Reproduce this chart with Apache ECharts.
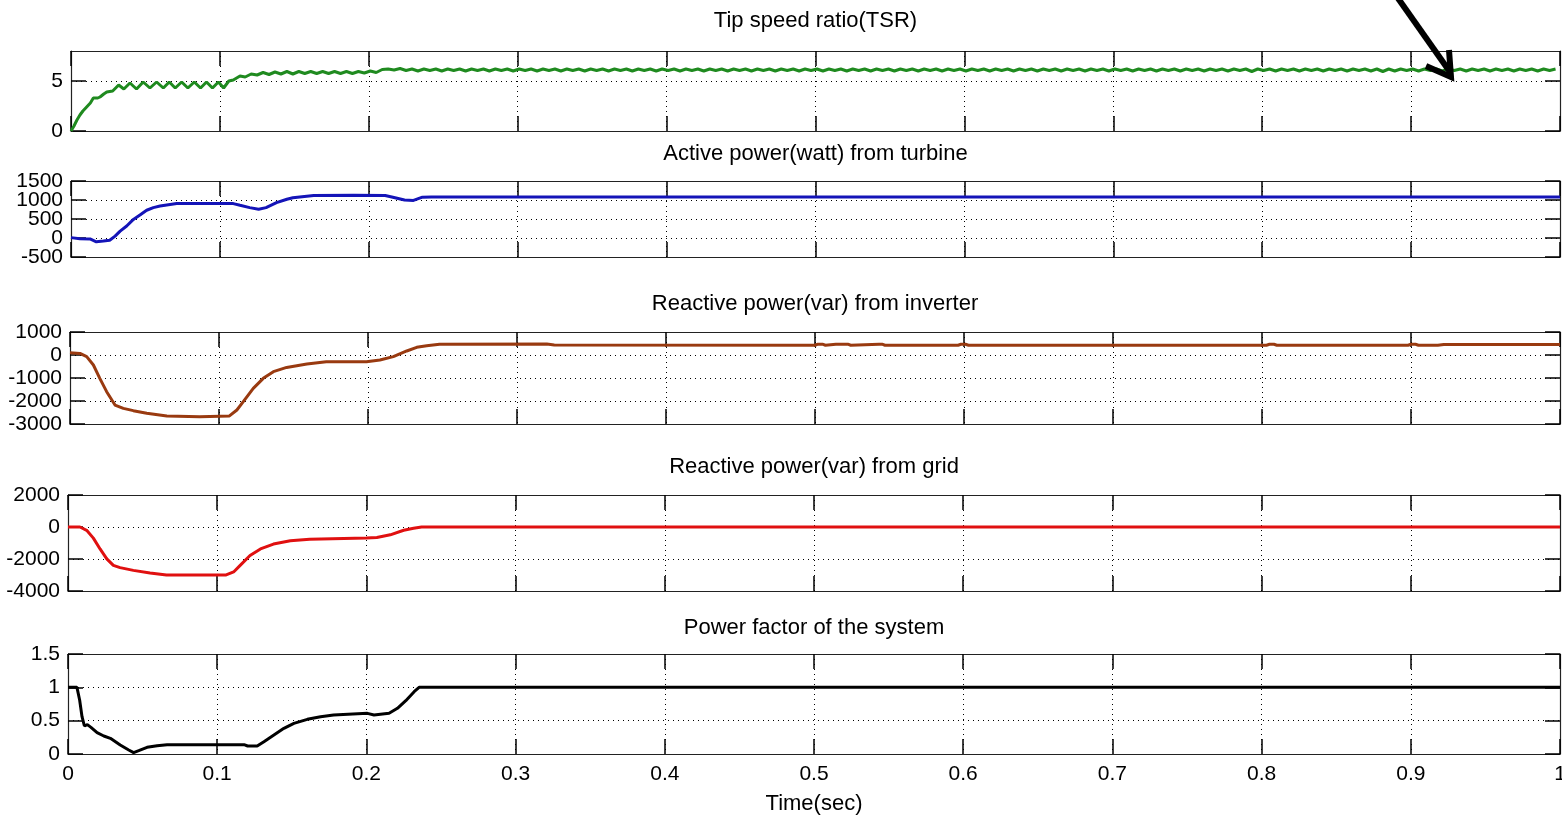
<!DOCTYPE html>
<html><head><meta charset="utf-8">
<script src="https://cdn.jsdelivr.net/npm/echarts@6/dist/echarts.min.js"></script>
<style>html,body{margin:0;padding:0;background:#fff}#c{width:1562px;height:817px}</style>
</head><body><div id="c"></div>
<script>
// ---- data ----
const panelTitles = ['Tip speed ratio(TSR)', 'Active power(watt) from turbine', 'Reactive power(var) from inverter', 'Reactive power(var) from grid', 'Power factor of the system'];
const xAxisTitle = 'Time(sec)';
const yRanges = [[0, 8, 5], [-500, 1500, 500], [-3000, 1000, 1000], [-4000, 2000, 2000], [0, 1.5, 0.5]];
const yTickLabels = [[0, 5], [-500, 0, 500, 1000, 1500], [-3000, -2000, -1000, 0, 1000], [-4000, -2000, 0, 2000], [0, 0.5, 1, 1.5]];

const tsrTransient = [[0,0],[0.002,0.5],[0.004,1.1],[0.006,1.6],[0.008,2.0],[0.0105,2.4],[0.013,2.8],[0.015,3.3],[0.018,3.3],[0.0195,3.4],[0.022,3.7],[0.024,3.9],[0.028,4.0],[0.032,4.6],[0.0355,4.2],[0.0396,4.8],[0.044,4.2],[0.0485,4.9],[0.053,4.3],[0.0575,4.9],[0.062,4.3],[0.066,4.9],[0.070,4.3],[0.0743,4.9],[0.0785,4.3],[0.0828,4.9],[0.087,4.3],[0.091,4.9],[0.095,4.3],[0.099,4.9],[0.1025,4.3],[0.106,5.0],[0.109,5.1],[0.1135,5.5],[0.117,5.4],[0.121,5.7],[0.125,5.6],[0.129,5.85],[0.133,5.65],[0.137,5.9],[0.141,5.7],[0.145,5.95],[0.149,5.7],[0.153,5.95],[0.157,5.75],[0.161,5.95],[0.165,5.75],[0.169,5.95],[0.173,5.75],[0.177,5.95],[0.181,5.75],[0.185,5.95],[0.189,5.75],[0.193,5.95],[0.197,5.8],[0.201,6.0],[0.205,5.85],[0.209,6.15],[0.213,6.2],[0.217,6.1],[0.221,6.25],[0.225,6.05],[0.229,6.2]];
const tsrSteadyStart = 0.233;
const tsrSteadyStep = 0.004;
const tsrSteady = [
6.0,6.2,6.05,6.2,6.0,6.2,6.05,6.2,6.0,6.2,6.05,6.2,6.0,6.2,6.05,6.2,
6.0,6.2,6.05,6.2,6.0,6.2,6.05,6.2,6.0,6.2,6.05,6.2,6.0,6.2,6.05,6.2,
6.0,6.2,6.05,6.2,6.0,6.2,6.05,6.2,6.0,6.2,6.05,6.2,6.0,6.2,6.05,6.2,
6.0,6.2,6.05,6.2,6.0,6.2,6.05,6.2,6.0,6.2,6.05,6.2,6.0,6.2,6.05,6.2,
6.0,6.2,6.05,6.2,6.0,6.2,6.05,6.2,6.0,6.2,6.05,6.2,6.0,6.2,6.05,6.2,
6.0,6.2,6.05,6.2,6.0,6.2,6.05,6.2,6.0,6.2,6.05,6.2,6.0,6.2,6.05,6.2,
6.0,6.2,6.05,6.2,6.0,6.2,6.05,6.2,6.0,6.2,6.05,6.2,6.0,6.2,6.05,6.2,
6.0,6.2,6.05,6.2,6.0,6.2,6.05,6.2,6.0,6.2,6.05,6.2,6.0,6.2,6.05,6.2,
6.0,6.2,6.05,6.2,6.0,6.2,6.05,6.2,6.0,6.2,6.05,6.2,5.95,6.2,6.05,6.2,
6.0,6.2,6.05,6.2,6.0,6.2,6.05,6.2,6.0,6.2,6.05,6.2,6.0,6.2,6.05,6.2,
6.0,6.2,5.95,6.2,6.0,6.2,6.05,6.2,6.0,6.2,6.05,6.2,6.0,6.2,6.05,6.2,
6.0,6.2,6.05,6.2,6.0,6.2,6.05,6.2,6.0,6.2,6.05,6.2,6.0,6.2,6.05,6.2
];
const activePower = [[0,10],[0.006,-20],[0.0128,-25],[0.017,-100],[0.0217,-80],[0.026,-60],[0.0296,50],[0.033,180],[0.0374,315],[0.0419,490],[0.0463,605],[0.0508,730],[0.0553,800],[0.0598,840],[0.0643,870],[0.071,905],[0.09,905],[0.109,905],[0.1135,860],[0.12,800],[0.126,755],[0.131,800],[0.138,930],[0.145,1020],[0.149,1060],[0.163,1120],[0.19,1125],[0.211,1120],[0.2176,1060],[0.224,1000],[0.23,990],[0.236,1075],[0.242,1080],[0.5,1080],[0.75,1080],[1,1080]];
const reactiveInverter = [[0,100],[0.0067,70],[0.0112,-70],[0.0157,-435],[0.020,-1015],[0.0246,-1595],[0.0302,-2175],[0.0358,-2320],[0.0425,-2420],[0.0515,-2535],[0.065,-2650],[0.087,-2680],[0.107,-2650],[0.112,-2390],[0.1163,-2030],[0.123,-1450],[0.1297,-1015],[0.1365,-725],[0.1454,-540],[0.159,-390],[0.172,-290],[0.199,-290],[0.208,-220],[0.217,-70],[0.226,175],[0.2327,335],[0.2394,405],[0.248,465],[0.32,475],[0.325,430],[0.50,425],[0.502,470],[0.505,470],[0.507,425],[0.514,470],[0.522,470],[0.524,425],[0.543,470],[0.545,470],[0.547,425],[0.596,425],[0.598,465],[0.601,465],[0.603,425],[0.803,425],[0.805,465],[0.808,465],[0.81,425],[0.898,425],[0.9,465],[0.903,465],[0.905,425],[0.918,425],[0.922,455],[1,455]];
const reactiveGrid = [[0,0],[0.008,0],[0.0125,-205],[0.017,-695],[0.0215,-1370],[0.026,-1990],[0.0304,-2400],[0.0349,-2540],[0.0438,-2710],[0.055,-2870],[0.066,-2995],[0.106,-2995],[0.111,-2810],[0.1154,-2400],[0.122,-1785],[0.129,-1370],[0.1377,-1065],[0.149,-860],[0.162,-760],[0.2,-695],[0.207,-655],[0.216,-490],[0.225,-205],[0.2316,-80],[0.237,0],[1,0]];
const powerFactor = [[0,1],[0.006,1],[0.0078,0.81],[0.0094,0.56],[0.011,0.42],[0.013,0.44],[0.0154,0.40],[0.0195,0.32],[0.024,0.27],[0.0284,0.235],[0.035,0.135],[0.0407,0.06],[0.044,0.02],[0.0474,0.05],[0.053,0.10],[0.0597,0.125],[0.0664,0.14],[0.118,0.14],[0.1204,0.12],[0.1268,0.12],[0.1313,0.185],[0.138,0.285],[0.1447,0.385],[0.1514,0.46],[0.1604,0.52],[0.1693,0.56],[0.178,0.585],[0.2007,0.61],[0.2051,0.585],[0.2152,0.61],[0.2208,0.685],[0.2264,0.80],[0.232,0.935],[0.2353,1.0],[1,1]];

// ---- build ----
const tsr = tsrTransient.concat(tsrSteady.map((v, i) => [+(tsrSteadyStart + i * tsrSteadyStep).toFixed(4), v]));
const seriesData = [tsr, activePower, reactiveInverter, reactiveGrid, powerFactor];
const colors = ['#1f8a1f', '#1414b8', '#993a10', '#e01010', '#000000'];

const grids = [
  {left: 71, top: 51, width: 1489, height: 80},
  {left: 71, top: 181, width: 1489, height: 76},
  {left: 70, top: 332, width: 1490, height: 92},
  {left: 68, top: 495, width: 1492, height: 96},
  {left: 68, top: 654, width: 1492, height: 100}
].map(g => Object.assign(g, {outerBoundsMode: 'none'}));
const titleGaps = [19, 16, 17, 17, 15];

// panel 2 labels are tightly packed: split them over two overlaid axes so none get hidden
const panel2Primary = yTickLabels[1].filter((v, k) => k % 2 === 0);
const panel2Secondary = yTickLabels[1].filter((v, k) => k % 2 === 1);

const FONT = 'Liberation Sans, Arial, sans-serif';
const lineBlack = {show: true, onZero: false, lineStyle: {color: '#222', width: 1.2}};
const tickStyle = {color: '#000', width: 1.5};
const tickIn = {show: true, inside: true, length: 15, interval: 0, lineStyle: tickStyle};
const dotted = {show: true, interval: 0, lineStyle: {color: '#000', type: [1, 4], width: 1}};
const fmt = v => String(+(+v).toFixed(4));
const yLabelStyle = {color: '#000', fontSize: 21, lineHeight: 14, fontFamily: FONT, margin: 8, formatter: fmt,
  hideOverlap: false, showMinLabel: true, showMaxLabel: true};

const xAxis = [], yAxis = [], series = [];
grids.forEach((g, i) => {
  const last = i === grids.length - 1;
  xAxis.push({
    type: 'value', gridIndex: i, position: 'bottom', min: 0, max: 1, interval: 0.1,
    axisLine: lineBlack, axisTick: tickIn, splitLine: dotted,
    axisLabel: {show: last, interval: 0, color: '#000', fontSize: 21, lineHeight: 16, fontFamily: FONT, margin: 12, formatter: fmt,
      hideOverlap: false, showMinLabel: true, showMaxLabel: true},
    name: last ? xAxisTitle : '', nameLocation: 'middle', nameGap: 39,
    nameTextStyle: {color: '#000', fontSize: 22, fontFamily: FONT}
  });
  xAxis.push({
    type: 'value', gridIndex: i, position: 'top', min: 0, max: 1, interval: 0.1,
    axisLine: lineBlack, axisTick: tickIn, splitLine: {show: false}, axisLabel: {show: false},
    name: panelTitles[i], nameLocation: 'middle', nameGap: titleGaps[i],
    nameTextStyle: {color: '#000', fontSize: 22, fontFamily: FONT}
  });
  const r = yRanges[i];
  const labelVals = i === 1 ? panel2Primary : yTickLabels[i];
  yAxis.push({
    type: 'value', gridIndex: i, position: 'left', min: r[0], max: r[1], interval: r[2],
    axisLine: lineBlack,
    axisTick: {show: true, inside: true, length: 15, customValues: yTickLabels[i], lineStyle: tickStyle},
    splitLine: dotted,
    axisLabel: Object.assign({customValues: labelVals}, yLabelStyle)
  });
  yAxis.push({
    type: 'value', gridIndex: i, position: 'right', min: r[0], max: r[1], interval: r[2],
    axisLine: lineBlack,
    axisTick: {show: true, inside: true, length: 15, customValues: yTickLabels[i], lineStyle: tickStyle},
    splitLine: {show: false}, axisLabel: {show: false}
  });
  series.push({
    type: 'line', xAxisIndex: 2 * i, yAxisIndex: 2 * i, data: seriesData[i],
    showSymbol: false, symbol: 'none', lineStyle: {color: colors[i], width: 3},
    itemStyle: {color: colors[i]}, z: 3
  });
});

// overlay grid on panel 2 carrying the in-between labels
const overlayIndex = grids.length;
const allGrids = grids.concat([Object.assign({}, grids[1])]);
xAxis.push({type: 'value', gridIndex: overlayIndex, min: 0, max: 1, show: false});
yAxis.push({
  type: 'value', gridIndex: overlayIndex, position: 'left', min: yRanges[1][0], max: yRanges[1][1], interval: yRanges[1][2],
  axisLine: {show: false, onZero: false},
  axisTick: {show: true, inside: true, length: 15, customValues: panel2Secondary, lineStyle: tickStyle},
  splitLine: {show: false},
  axisLabel: Object.assign({customValues: panel2Secondary}, yLabelStyle)
});

const chart = echarts.init(document.getElementById('c'), null, {renderer: 'canvas'});
chart.setOption({
  animation: false,
  backgroundColor: '#fff',
  grid: allGrids,
  xAxis, yAxis, series,
  graphic: [
    {type: 'polyline', shape: {points: [[1395, -6], [1450, 72]]}, style: {stroke: '#000', lineWidth: 6, fill: null}, z: 100},
    {type: 'polyline', shape: {points: [[1426, 66], [1451, 77], [1449, 50]]}, style: {stroke: '#000', lineWidth: 6, fill: null, lineJoin: 'miter'}, z: 100}
  ]
});
</script></body></html>
